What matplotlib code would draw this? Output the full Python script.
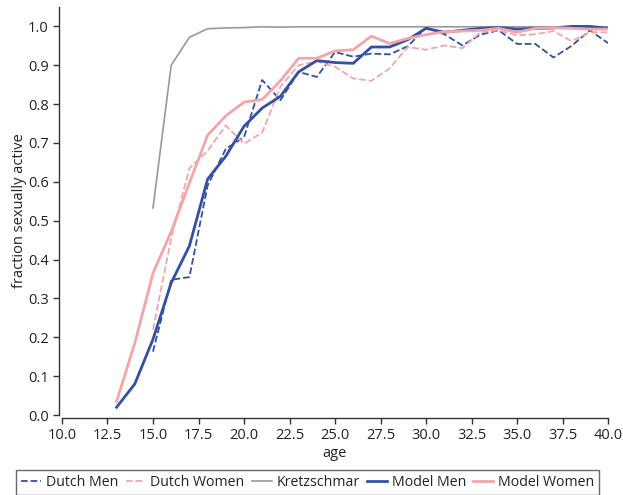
import numpy as np
import matplotlib
matplotlib.use('Agg')
import matplotlib.pyplot as plt

plt.rcParams['font.family'] = ['Open Sans', 'DejaVu Sans']

# ages
model_ages = np.arange(13, 41)
survey_ages = np.arange(15, 41)

# survey data
dutch_men = [0.163, 0.348, 0.355, 0.59, 0.685, 0.715, 0.862, 0.81, 0.883, 0.87,
             0.934, 0.922, 0.93, 0.928, 0.949, 0.997, 0.98, 0.951, 0.979, 0.99,
             0.955, 0.955, 0.92, 0.95, 0.99, 0.957]
dutch_women = [0.22, 0.455, 0.635, 0.68, 0.745, 0.698, 0.727, 0.845, 0.90, 0.91,
               0.896, 0.866, 0.86, 0.892, 0.947, 0.94, 0.951, 0.944, 0.985, 0.99,
               0.977, 0.98, 0.988, 0.962, 0.985, 0.985]
kretzschmar = [0.533, 0.90, 0.972, 0.994, 0.996, 0.997, 0.999, 0.998, 0.999, 0.999,
               0.999, 0.999, 0.999, 0.999, 0.999, 0.999, 0.999, 0.999, 0.999, 0.999,
               0.999, 0.999, 0.999, 0.999, 0.999, 0.999]

# model output
model_men = [0.02, 0.08, 0.195, 0.34, 0.435, 0.607, 0.666, 0.743, 0.79, 0.82,
             0.883, 0.912, 0.907, 0.905, 0.947, 0.947, 0.966, 0.995, 0.985, 0.99,
             0.995, 0.997, 0.993, 0.995, 0.996, 1.0, 1.0, 0.995]
model_women = [0.035, 0.185, 0.365, 0.472, 0.597, 0.72, 0.77, 0.805, 0.812, 0.86,
               0.918, 0.918, 0.937, 0.94, 0.975, 0.956, 0.969, 0.979, 0.986, 0.988,
               0.99, 0.995, 0.985, 0.995, 0.997, 0.995, 0.993, 0.993]

blue = '#3350a4'
pink = '#f5a5a9'
grey = '#999999'

fig = plt.figure(figsize=(6.23, 4.95), dpi=100)
ax = fig.add_axes([0.0995, 0.1616, 0.8765, 0.8243])

ax.plot(survey_ages, dutch_men, '--', color=blue, lw=1.3, label='Dutch Men')
ax.plot(survey_ages, dutch_women, '--', color=pink, lw=1.3, label='Dutch Women')
ax.plot(survey_ages, kretzschmar, '-', color=grey, lw=1.2, label='Kretzschmar')
ax.plot(model_ages, model_men, '-', color=blue, lw=2.0, label='Model Men')
ax.plot(model_ages, model_women, '-', color=pink, lw=2.0, label='Model Women')

ax.set_xlim(10, 40)
ax.set_ylim(0, 1.05)
ax.set_xticks(np.arange(10, 40.1, 2.5))
ax.set_yticks(np.arange(0, 1.01, 0.1))
ax.xaxis.set_major_formatter(matplotlib.ticker.FormatStrFormatter('%.1f'))
ax.yaxis.set_major_formatter(matplotlib.ticker.FormatStrFormatter('%.1f'))

for side in ['top', 'right']:
    ax.spines[side].set_visible(False)
for side in ['left', 'bottom']:
    ax.spines[side].set_color('#333333')
    ax.spines[side].set_linewidth(1.0)
    ax.spines[side].set_position(('outward', 2))
ax.tick_params(direction='out', length=4, width=1, color='#333333',
               labelsize=10.5, labelcolor='#222222')

ax.set_xlabel('age', fontsize=10.5, color='#222222', labelpad=2)
ax.set_ylabel('fraction sexually active', fontsize=10.5, color='#222222', labelpad=1)

leg = fig.legend(loc='upper center', bbox_to_anchor=(0.494, 1 - 470 / 495),
                 ncol=5, fontsize=10.2, fancybox=False, handlelength=1.4,
                 handletextpad=0.35, columnspacing=0.5, borderpad=0.35,
                 borderaxespad=0)
leg.get_frame().set_edgecolor('#444444')
leg.get_frame().set_linewidth(1.0)
for t in leg.get_texts():
    t.set_color('#222222')

fig.savefig('out.png', dpi=100)
